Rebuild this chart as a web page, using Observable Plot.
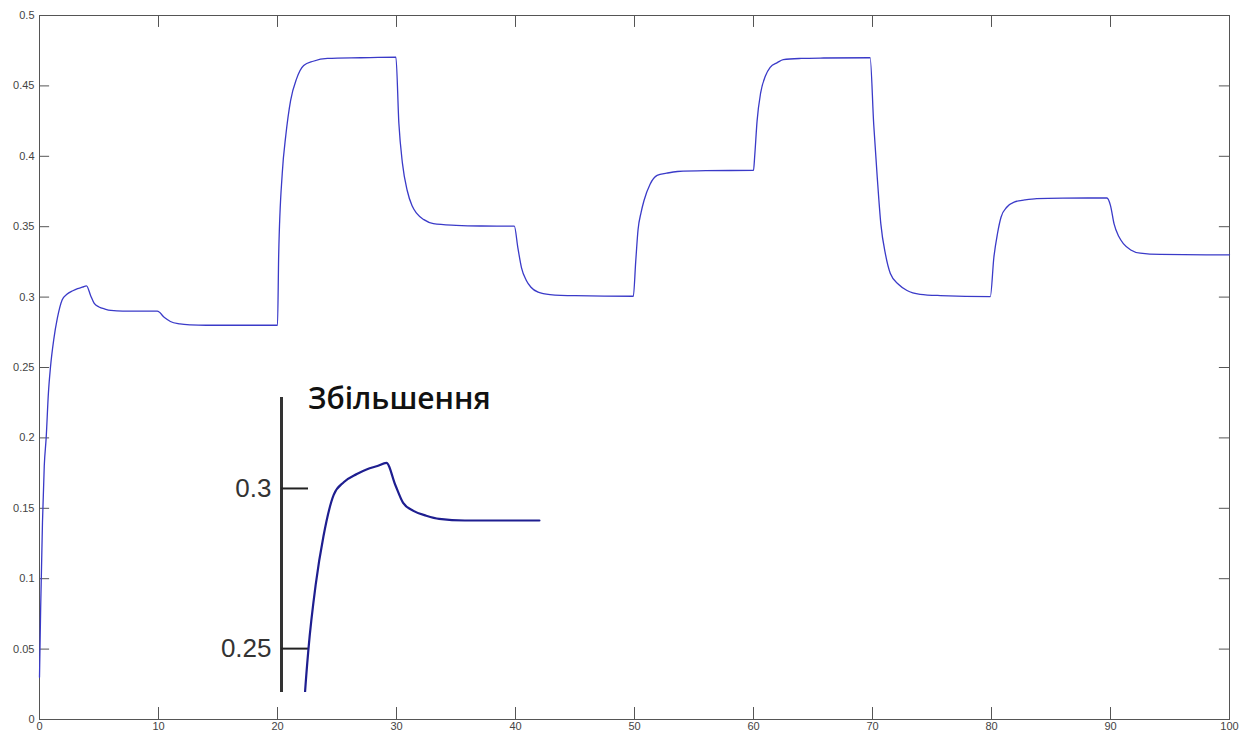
<!DOCTYPE html>
<html>
<head>
<meta charset="utf-8">
<script src="https://cdn.jsdelivr.net/npm/d3@7"></script>
<script src="https://cdn.jsdelivr.net/npm/@observablehq/plot@0.6"></script>
<style>
  html, body { margin: 0; padding: 0; background: #fff; }
  #wrap { position: relative; width: 1248px; height: 733px; overflow: hidden; }
  #inset { position: absolute; left: 200px; top: 380px; }
  #insetTitle { position: absolute; left: 308px; top: 383px; font: 600 30px "Open Sans", sans-serif; line-height: 1; color: #111; white-space: nowrap; }
</style>
</head>
<body>
<div id="wrap">
  <div id="main"></div>
  <div id="inset"></div>
  <div id="insetTitle"></div>
</div>
<script>
// ---- data ----
const times = [0, 0.1, 0.25, 0.4, 0.56, 0.75, 0.92, 1.2, 1.5, 1.9, 2.3, 2.8, 3.2, 3.6, 3.95,
  4.3, 4.6, 5.0, 5.5, 6.0, 7.0, 8.0, 9.9, 10.5, 11.0, 11.8, 12.7, 14, 20.0,
  20.1, 20.4, 20.7, 21.1, 21.6, 22.2, 23.0, 24.2, 27, 29.95,
  30.2, 30.5, 30.9, 31.3, 31.7, 32.3, 33.1, 35, 37, 39.9,
  40.2, 40.5, 40.9, 41.3, 41.9, 42.9, 45, 49.9,
  50.1, 50.3, 50.55, 50.8, 51.3, 51.9, 52.7, 53.6, 56, 60,
  60.1, 60.3, 60.6, 61.0, 61.4, 62.0, 62.5, 64, 65.9, 69.8,
  70.1, 70.4, 70.7, 71.1, 71.5, 72.2, 72.9, 74, 75.7, 79.9,
  80.2, 80.5, 80.8, 81.3, 81.9, 82.8, 83.8, 86, 89.7,
  90.0, 90.3, 90.7, 91.1, 91.7, 92.5, 94.2, 100];
const values = [0.03, 0.08, 0.14, 0.18, 0.20, 0.232, 0.25, 0.27, 0.285, 0.298, 0.302, 0.3045, 0.306, 0.307, 0.308,
  0.301, 0.2955, 0.293, 0.2915, 0.2905, 0.29, 0.29, 0.29, 0.2855, 0.2827, 0.281, 0.2803, 0.28, 0.28,
  0.33, 0.388, 0.415, 0.4396, 0.455, 0.4645, 0.4675, 0.4695, 0.47, 0.4704,
  0.4233, 0.395, 0.3757, 0.365, 0.3594, 0.355, 0.3522, 0.351, 0.3505, 0.3504,
  0.335, 0.321, 0.312, 0.307, 0.3035, 0.3018, 0.301, 0.3006,
  0.325, 0.348, 0.360, 0.3686, 0.380, 0.3864, 0.388, 0.3892, 0.3898, 0.390,
  0.400, 0.425, 0.445, 0.457, 0.4632, 0.4665, 0.4687, 0.4695, 0.4698, 0.47,
  0.423, 0.385, 0.352, 0.330, 0.3168, 0.309, 0.3047, 0.302, 0.3011, 0.3004,
  0.3283, 0.345, 0.3567, 0.364, 0.3675, 0.369, 0.370, 0.3703, 0.3704,
  0.365, 0.352, 0.343, 0.3378, 0.3335, 0.3312, 0.3303, 0.330];

const xTicks = [0, 10, 20, 30, 40, 50, 60, 70, 80, 90, 100];
const xTickLabels = ["0", "10", "20", "30", "40", "50", "60", "70", "80", "90", "100"];
const yTicks = [0, 0.05, 0.1, 0.15, 0.2, 0.25, 0.3, 0.35, 0.4, 0.45, 0.5];
const yTickLabels = ["0", "0.05", "0.1", "0.15", "0.2", "0.25", "0.3", "0.35", "0.4", "0.45", "0.5"];

// inset (zoom of the start of the curve)
const insetTitle = "Збільшення";
const insetXDomain = [-0.13, 10];
const insetYDomain = [0.2363, 0.3284];
const insetYTicks = [0.25, 0.3];
const insetYTickLabels = ["0.25", "0.3"];
const insetTEnd = 9.95;

const series = times.map((t, i) => ({t, v: values[i]}));

const fontMain = "'Liberation Sans', Arial, sans-serif";

const main = Plot.plot({
  width: 1248, height: 733,
  marginLeft: 39, marginRight: 19, marginTop: 15, marginBottom: 14,
  style: {background: "#fff", fontFamily: fontMain},
  x: {domain: [0, 100], label: null},
  y: {domain: [0, 0.5], label: null},
  marks: [
    // inward tick marks on all four sides (MATLAB style)
    Plot.ruleY(yTicks, {x1: 0, x2: 0.85, stroke: "#555"}),
    Plot.ruleY(yTicks, {x1: 99.15, x2: 100, stroke: "#555"}),
    Plot.ruleX(xTicks, {y1: 0, y2: 0.0085, stroke: "#555"}),
    Plot.ruleX(xTicks, {y1: 0.4915, y2: 0.5, stroke: "#555"}),
    Plot.frame({stroke: "#555"}),
    Plot.axisY(yTicks, {tickSize: 0, tickPadding: 5, fontSize: 11, fill: "#444", label: null,
      tickFormat: (d, i) => yTickLabels[i]}),
    Plot.axisX(xTicks, {tickSize: 0, tickPadding: 3, fontSize: 11, fill: "#444", label: null,
      tickFormat: (d, i) => xTickLabels[i]}),
    Plot.line(series, {x: "t", y: "v", stroke: "#3a3ac8", strokeWidth: 1.3, curve: "monotone-x"})
  ]
});
document.getElementById("main").appendChild(main);

const insetData = series.filter(d => d.t <= insetTEnd);
const inset = Plot.plot({
  width: 360, height: 320,
  marginLeft: 81, marginRight: 18.5, marginTop: 17, marginBottom: 8,
  style: {background: "transparent", fontFamily: fontMain, overflow: "hidden"},
  x: {domain: insetXDomain, axis: null, label: null},
  y: {domain: insetYDomain, label: null},
  marks: [
    Plot.ruleX([insetXDomain[0]], {stroke: "#333", strokeWidth: 3}),
    Plot.ruleY(insetYTicks, {x1: insetXDomain[0], x2: 0.92, stroke: "#222", strokeWidth: 2}),
    Plot.axisY(insetYTicks, {tickSize: 0, tickPadding: 10, fontSize: 26, fill: "#333", label: null,
      tickFormat: (d, i) => insetYTickLabels[i]}),
    Plot.line(insetData, {x: "t", y: "v", stroke: "#1e1e90", strokeWidth: 2.2, curve: "monotone-x", clip: true})
  ]
});
document.getElementById("inset").appendChild(inset);
document.getElementById("insetTitle").textContent = insetTitle;
</script>
</body>
</html>
